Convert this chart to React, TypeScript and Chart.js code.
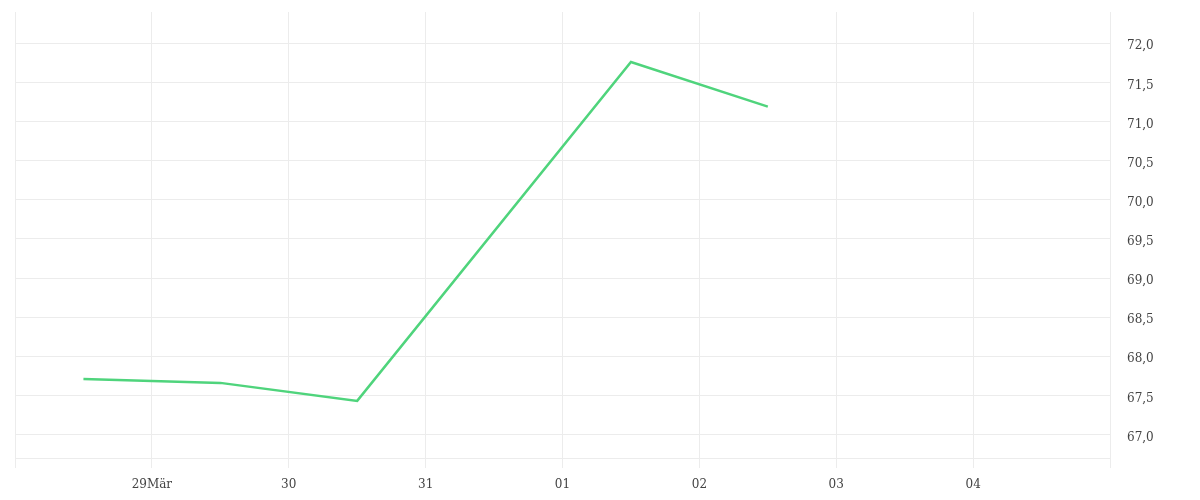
import { useEffect, useRef } from "react";
import { Chart, registerables } from "chart.js";

Chart.register(...registerables);

// Tage ab 28. März (0 = 28, 8 = 05)
const dayLabels = ["", "29Mär", "30", "31", "01", "02", "03", "04", ""];
const dayTicks = [0, 1, 2, 3, 4, 5, 6, 7, 8];

const pointDays = [0.5, 1.5, 2.5, 4.5, 5.5];
const pointValues = [67.71, 67.66, 67.43, 71.76, 71.19];

const yTicks = [67.0, 67.5, 68.0, 68.5, 69.0, 69.5, 70.0, 70.5, 71.0, 71.5, 72.0];

export default function App() {
  const ref = useRef(null);

  useEffect(() => {
    document.body.style.margin = "0";
    if (!ref.current) return;
    const chart = new Chart(ref.current, {
      type: "line",
      data: {
        datasets: [
          {
            data: pointDays.map((d, i) => ({ x: d, y: pointValues[i] })),
            borderColor: "#4fd47c",
            borderWidth: 2.5,
            pointRadius: 0,
            tension: 0,
            fill: false,
          },
        ],
      },
      options: {
        animation: false,
        responsive: true,
        maintainAspectRatio: false,
        layout: { padding: { left: 15, top: 12, right: 0, bottom: 0 } },
        plugins: { legend: { display: false }, tooltip: { enabled: false } },
        scales: {
          x: {
            type: "linear",
            min: 0,
            max: 8,
            afterBuildTicks: (scale) => {
              scale.ticks = dayTicks.map((v) => ({ value: v }));
            },
            afterFit: (scale) => {
              scale.height = 42;
              scale.paddingLeft = 0;
              scale.paddingRight = 0;
            },
            grid: {
              color: "#ececec",
              drawTicks: true,
              tickLength: 10,
            },
            border: { color: "#ececec" },
            ticks: {
              color: "#444",
              padding: 10,
              maxRotation: 0,
              autoSkip: false,
              font: { family: "'DejaVu Serif', serif", size: 12 },
              callback: (value) => dayLabels[dayTicks.indexOf(Number(value))] ?? "",
            },
          },
          y: {
            position: "right",
            min: 66.7,
            max: 72.4,
            afterBuildTicks: (scale) => {
              scale.ticks = yTicks.map((v) => ({ value: v }));
            },
            afterFit: (scale) => {
              scale.width = 90;
              scale.paddingTop = 0;
              scale.paddingBottom = 0;
            },
            grid: { color: "#ececec", drawTicks: false },
            border: { color: "#ececec" },
            ticks: {
              color: "#444",
              padding: 17,
              labelOffset: 3,
              font: { family: "'DejaVu Serif', serif", size: 12 },
              callback: (value) => Number(value).toFixed(1).replace(".", ","),
            },
          },
        },
      },
    });
    return () => {
      chart.destroy();
    };
  }, []);

  return (
    <div style={{ width: 1200, height: 500, position: "relative" }}>
      <canvas ref={ref}></canvas>
    </div>
  );
}
